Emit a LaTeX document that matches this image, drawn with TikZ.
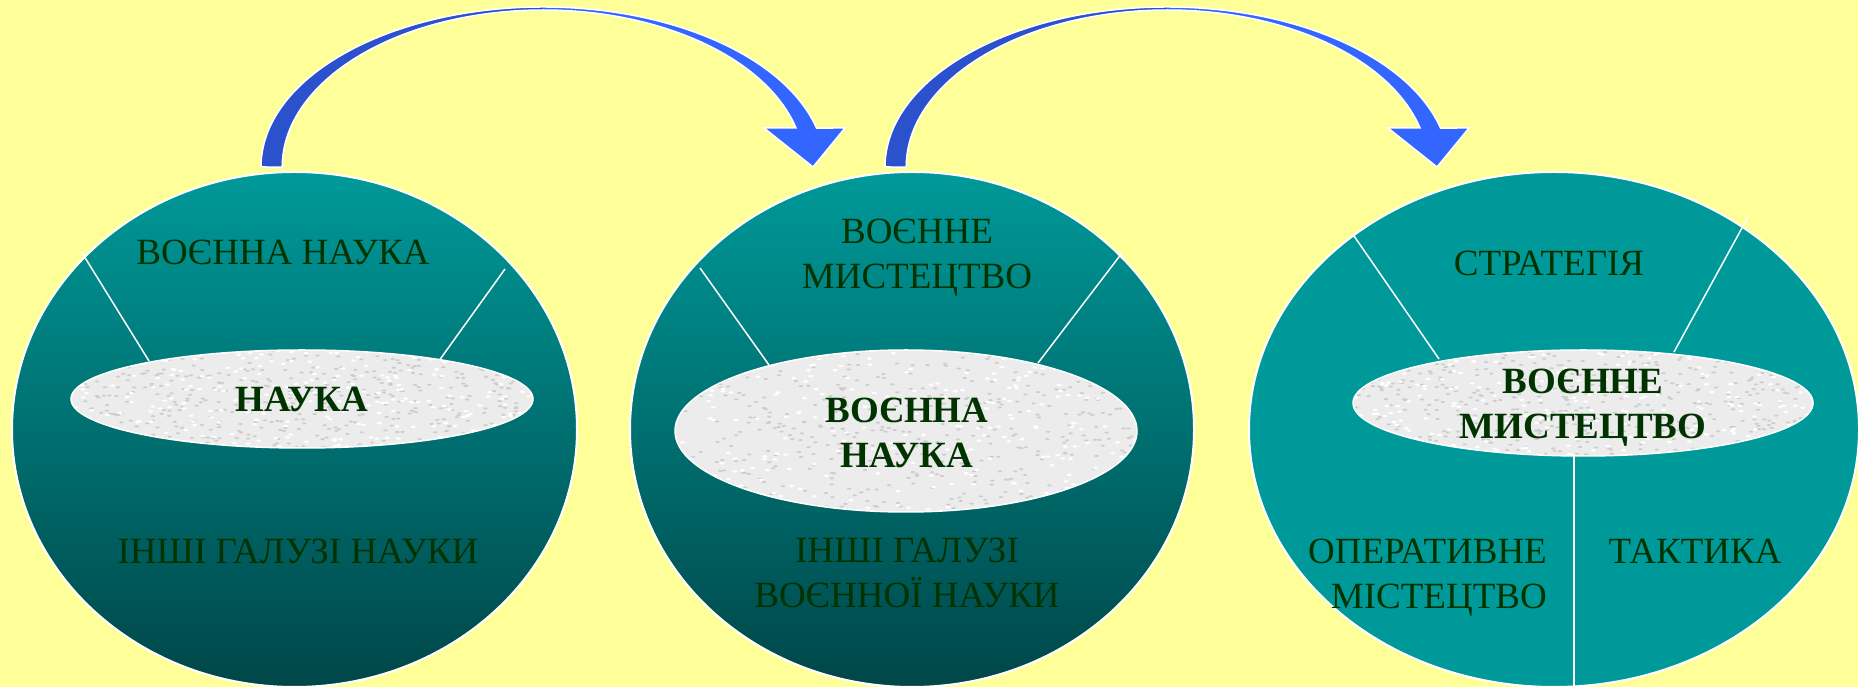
\documentclass[tikz,border=0pt]{standalone}
\usepackage{fontspec}
\setmainfont{Liberation Serif}
\usetikzlibrary{shapes.geometric,calc}
\definecolor{bgyellow}{RGB}{255,255,153}
\definecolor{tealtop}{RGB}{0,153,153}
\definecolor{tealbot}{RGB}{0,70,72}
\definecolor{txtgreen}{RGB}{0,51,0}
\definecolor{cloud}{RGB}{236,236,236}
\definecolor{speckdark}{RGB}{205,205,205}
\definecolor{arrowdark}{RGB}{43,82,204}
\definecolor{arrowbright}{RGB}{51,102,255}
\newcommand{\twoc}[2]{\begin{tabular}[t]{@{}c@{}}#1\\#2\end{tabular}}
\newcommand{\twor}[2]{\begin{tabular}[t]{@{}r@{}}#1\\#2\end{tabular}}
\begin{document}
\begin{tikzpicture}[x=1pt,y=1pt,
  bigcirc/.style={ellipse, draw=white, line width=2pt, inner sep=0pt},
  grad/.style={top color=tealtop, bottom color=tealbot},
  core/.style={ellipse, fill=cloud, inner sep=0pt},
  coreline/.style={white, line width=1.5pt},
  lbl/.style={text=txtgreen, font=\fontsize{37}{45}\selectfont, inner sep=0pt,
              text height=25pt, text depth=0pt, align=center},
  lbltwo/.style={lbl, text depth=45pt},
  bold/.style={font=\fontsize{37}{45}\selectfont\bfseries},
  divider/.style={white, line width=1.5pt},
  arrowline/.style={white, line width=1.5pt, line join=miter}
]
\useasboundingbox (0,0) rectangle (1858,687);
\fill[bgyellow] (0,0) rectangle (1858,687);
\clip (0,0) rectangle (1858,687);
\pgfmathsetseed{7}

% big circles
\node[bigcirc, grad, minimum width=565pt, minimum height=515pt] (c1) at (294.5,257.5) {};
\node[bigcirc, grad, minimum width=564pt, minimum height=515pt] (c2) at (912,257.5) {};
\node[bigcirc, fill=tealtop, minimum width=610pt, minimum height=515pt] (c3) at (1554,257.5) {};

% dividers
\coordinate (d1a) at (81.5,435); \coordinate (d1b) at (149,326);
\coordinate (d1c) at (505,418);  \coordinate (d1d) at (436,322);
\coordinate (d2a) at (700,419);  \coordinate (d2b) at (769,322);
\coordinate (d2c) at (1122,434); \coordinate (d2d) at (1038,324);
\coordinate (d3a) at (1354,451); \coordinate (d3b) at (1439,328);
\coordinate (d3c) at (1748,470); \coordinate (d3d) at (1674,335);
\coordinate (d3e) at (1574,240); \coordinate (d3f) at (1574,-5);
\draw[divider] (d1a) -- (d1b);
\draw[divider] (d1c) -- (d1d);
\draw[divider] (d2a) -- (d2b);
\draw[divider] (d2c) -- (d2d);
\draw[divider] (d3a) -- (d3b);
\draw[divider] (d3c) -- (d3d);
\draw[divider] (d3e) -- (d3f);

% core ellipses with speckled texture
\foreach \nm/\cx/\cy/\rx/\ry in {e1/302/288/231/49, e2/906/256/231/81, e3/1583/284/230/53} {
  \node[core, minimum width=2*\rx pt, minimum height=2*\ry pt] (\nm) at (\cx,\cy) {};
  \begin{scope}
    \clip (\nm.center) ellipse [x radius=\rx, y radius=\ry];
    \foreach \i in {1,...,450} {
      \fill[speckdark] ($(\nm.center)+(rand*\rx, rand*\ry)$) ellipse [x radius=2.2, y radius=1];
    }
    \foreach \i in {1,...,250} {
      \fill[white] ($(\nm.center)+(rand*\rx, rand*\ry)$) ellipse [x radius=2.5, y radius=1.2];
    }
  \end{scope}
  \draw[coreline] (\nm.center) ellipse [x radius=\rx, y radius=\ry];
}

% labels circle 1
\node[lbl] (t1a) at (283,435) {ВОЄННА НАУКА};
\node[lbl, bold] (t1b) at (302,288) {НАУКА};
\node[lbl] (t1c) at (298,136) {ІНШІ ГАЛУЗІ НАУКИ};
% labels circle 2
\node[lbltwo] (t2a) at (917,433.5) {\twoc{ВОЄННЕ}{МИСТЕЦТВО}};
\node[lbltwo, bold] (t2b) at (907,254.5) {\twoc{ВОЄННА}{НАУКА}};
\node[lbltwo] (t2c) at (907,114) {\twoc{ІНШІ ГАЛУЗІ}{ВОЄННОЇ НАУКИ}};
% labels circle 3
\node[lbl] (t3a) at (1549,424) {СТРАТЕГІЯ};
\node[lbltwo, bold] (t3b) at (1583,283) {\twoc{ВОЄННЕ}{МИСТЕЦТВО}};
\node[lbltwo, anchor=east] (t3c) at (1547,113.5) {\twor{ОПЕРАТИВНЕ}{МІСТЕЦТВО}};
\node[lbl] (t3d) at (1695,136) {ТАКТИКА};

% curved arrows
\foreach \sx/\nm in {0/a1, 624/a2} {
  \begin{scope}[shift={(\sx,0)}]
    \coordinate (\nm foot) at (261,520);
    \fill[arrowdark] (261,520) arc[start angle=180, end angle=90, x radius=282, y radius=160]
      -- (543,677) arc[start angle=90, end angle=180, x radius=261, y radius=157] -- cycle;
    \fill[arrowbright] (543,680) arc[start angle=90, end angle=14.1, x radius=282, y radius=160]
      -- (845,559) -- (813,520) -- (764,559) -- (796,559)
      arc[start angle=14.4, end angle=90, x radius=261, y radius=157] -- cycle;
    \draw[arrowline] (261,520) arc[start angle=180, end angle=14.1, x radius=282, y radius=160]
      -- (845,559) -- (813,520) -- (764,559) -- (796,559)
      arc[start angle=14.4, end angle=180, x radius=261, y radius=157] -- cycle;
  \end{scope}
}
\end{tikzpicture}
\end{document}
